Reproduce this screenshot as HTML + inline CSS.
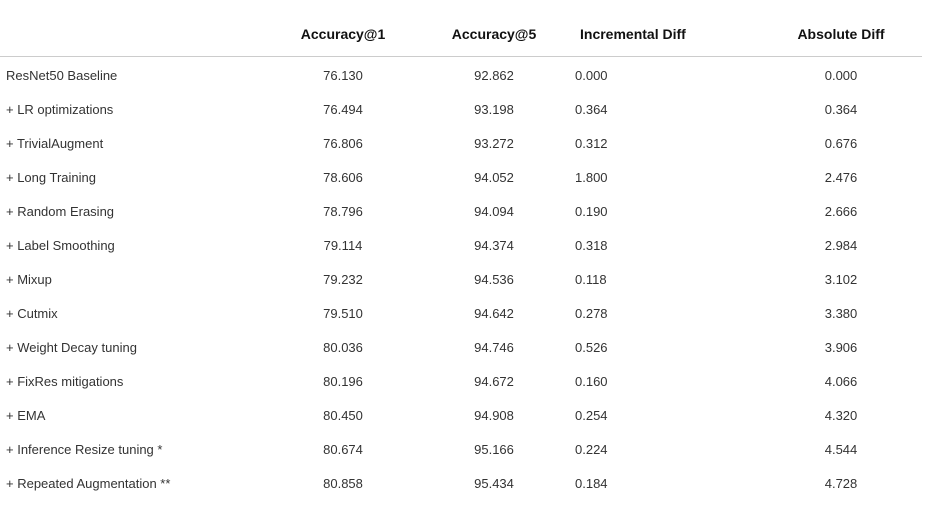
<!DOCTYPE html>
<html><head><meta charset="utf-8"><style>
body{margin:0;background:#fff;width:934px;height:520px;position:relative;font-family:"Liberation Sans",sans-serif;color:#333;overflow:hidden}
.c{position:absolute;font-size:13px;line-height:16px;white-space:nowrap}
.h{font-weight:bold;color:#111;font-size:14px}
.ctr{transform:translateX(-50%)}
.line{position:absolute;left:0;top:56px;width:922px;height:1px;background:#ccc}
</style></head><body>
<div id="t">
<div class="c h ctr" style="left:343px;top:26px">Accuracy@1</div>
<div class="c h ctr" style="left:494px;top:26px">Accuracy@5</div>
<div class="c h" style="left:580px;top:26px">Incremental Diff</div>
<div class="c h ctr" style="left:841px;top:26px">Absolute Diff</div>
<div class="line"></div>
</div>
<script>
const labels=["ResNet50 Baseline","+ LR optimizations","+ TrivialAugment","+ Long Training","+ Random Erasing","+ Label Smoothing","+ Mixup","+ Cutmix","+ Weight Decay tuning","+ FixRes mitigations","+ EMA","+ Inference Resize tuning *","+ Repeated Augmentation **"];
const acc1=["76.130","76.494","76.806","78.606","78.796","79.114","79.232","79.510","80.036","80.196","80.450","80.674","80.858"];
const acc5=["92.862","93.198","93.272","94.052","94.094","94.374","94.536","94.642","94.746","94.672","94.908","95.166","95.434"];
const inc=["0.000","0.364","0.312","1.800","0.190","0.318","0.118","0.278","0.526","0.160","0.254","0.224","0.184"];
const abs=["0.000","0.364","0.676","2.476","2.666","2.984","3.102","3.380","3.906","4.066","4.320","4.544","4.728"];
const t=document.getElementById('t');
function cell(txt,x,y,center,name){
  const d=document.createElement('div');
  d.className='c'+(center?' ctr':'');
  d.style.left=x+'px';d.style.top=y+'px';d.textContent=txt;
  
  
  t.appendChild(d);
}
labels.forEach((l,i)=>{
  const y=68+i*34;
  cell(l,6,y,false,'row-label');
  cell(acc1[i],343,y,true,'accuracy-1-cell');
  cell(acc5[i],494,y,true,'accuracy-5-cell');
  cell(inc[i],575,y,false,'incremental-diff-cell');
  cell(abs[i],841,y,true,'absolute-diff-cell');
});
</script>
</body></html>
